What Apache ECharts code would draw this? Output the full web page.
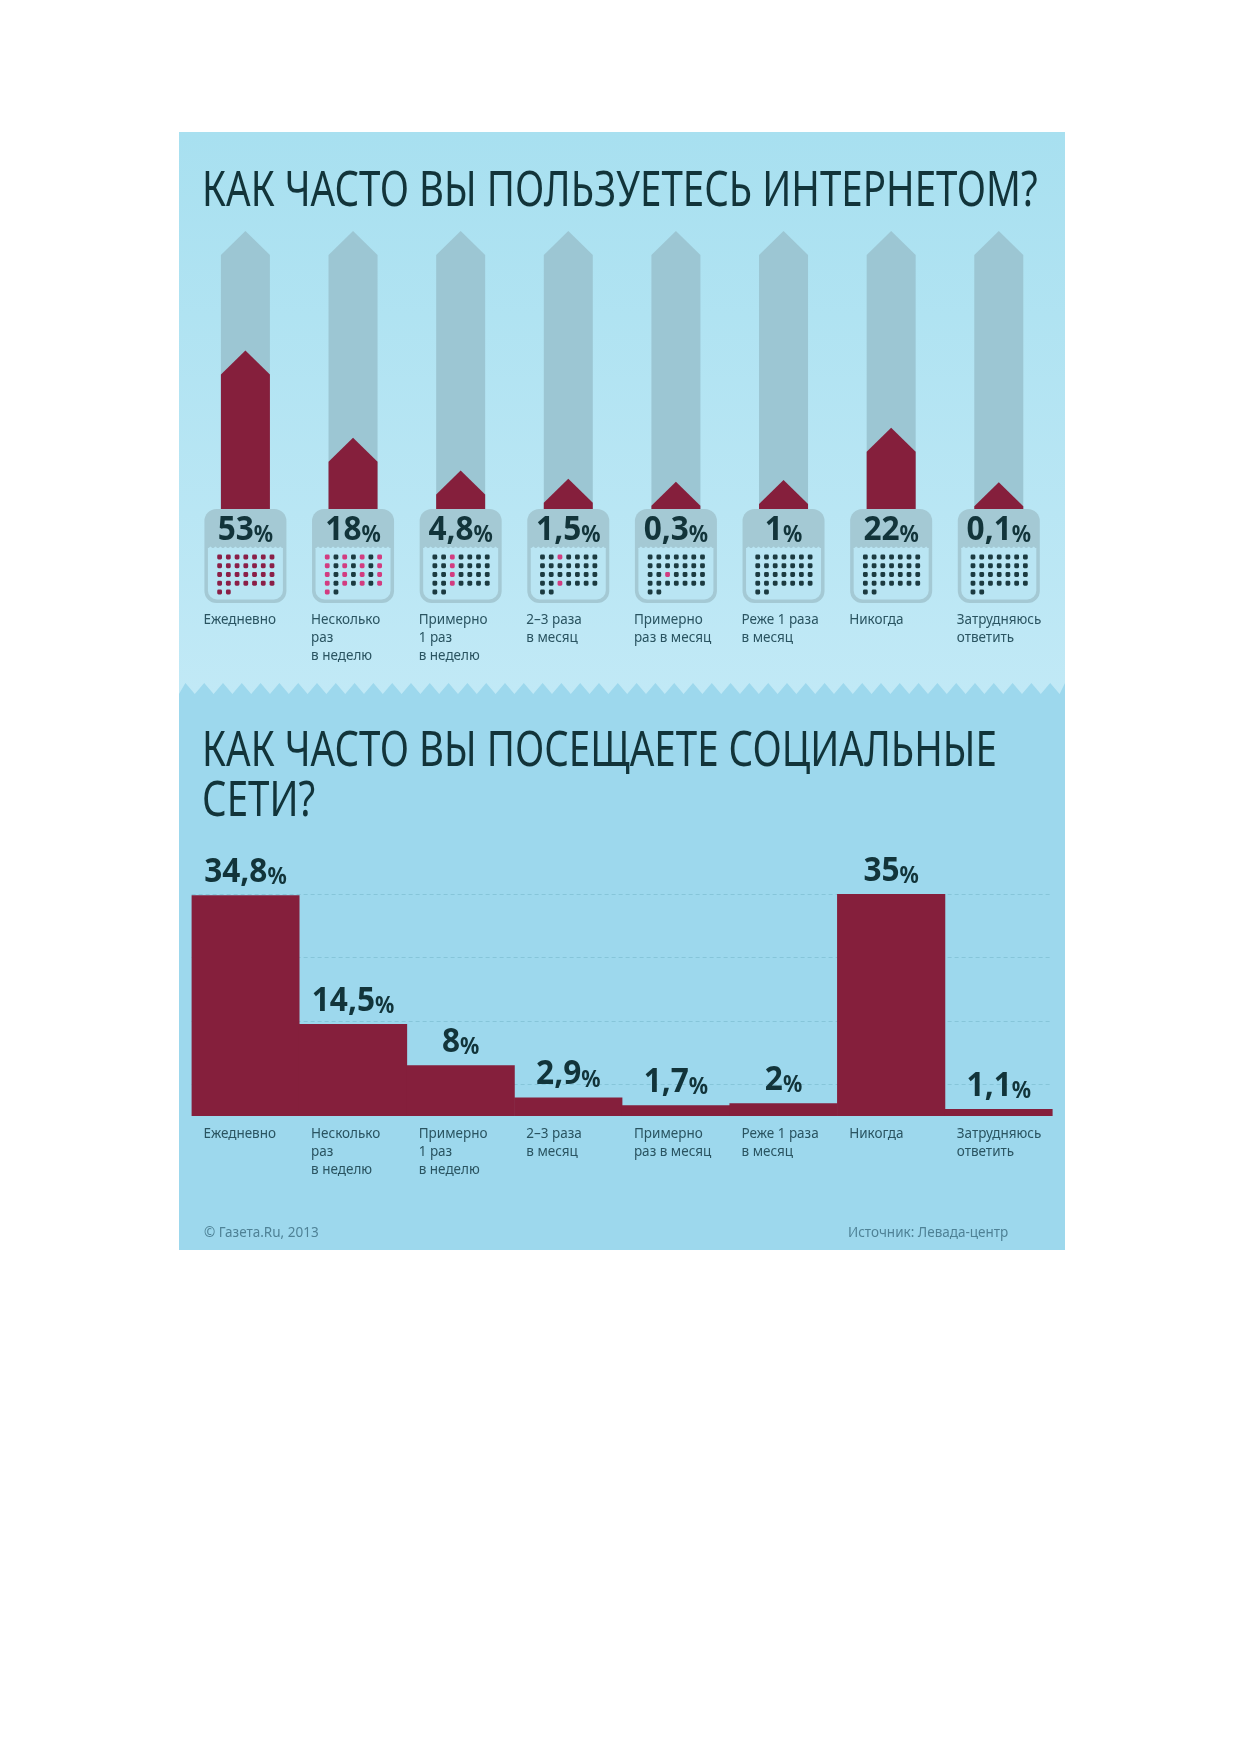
<!DOCTYPE html>
<html>
<head>
<meta charset="utf-8">
<style>html,body{margin:0;padding:0;background:#fff}#c{width:1240px;height:1754px}</style>
<script src="https://cdn.jsdelivr.net/npm/echarts@6/dist/echarts.min.js"></script>
</head>
<body>
<div id="c"></div>
<script>
var categories = ['Ежедневно','Несколько\nраз\nв неделю','Примерно\n1 раз\nв неделю','2–3 раза\nв месяц','Примерно\nраз в месяц','Реже 1 раза\nв месяц','Никогда','Затрудняюсь\nответить'];
var internetValues = [53,18,4.8,1.5,0.3,1,22,0.1];
var socialValues = [34.8,14.5,8,2.9,1.7,2,35,1.1];
var trackMax = 101;
var gridValues = [5,15,25,35];
var dotPatterns = [
  ['ccccccc','ccccccc','ccccccc','ccccccc','cc'],
  ['pdpdpdp','pdpdpdp','pdpdpdp','pdpdpdp','pd'],
  ['ddpdddd','ddpdddd','ddpdddd','ddpdddd','dd'],
  ['ddpdddd','ddddddd','ddddddd','ddpdddd','dd'],
  ['ddddddd','ddddddd','ddpdddd','ddddddd','dd'],
  ['ddddddd','ddddddd','ddddddd','ddddddd','dd'],
  ['ddddddd','ddddddd','ddddddd','ddddddd','dd'],
  ['ddddddd','ddddddd','ddddddd','ddddddd','dd']
];
var titleTop = 'КАК ЧАСТО ВЫ ПОЛЬЗУЕТЕСЬ ИНТЕРНЕТОМ?';
var titleBottom = 'КАК ЧАСТО ВЫ ПОСЕЩАЕТЕ СОЦИАЛЬНЫЕ\nСЕТИ?';
var footerLeft = '© Газета.Ru, 2013';
var footerRight = 'Источник: Левада-центр';

var narrow = '"Noto Sans","Open Sans",sans-serif';
var bodyFont = '"Noto Sans","Open Sans",sans-serif';
var INK = '#12343a', WINE = '#851f3c', TRACK = '#9cc6d3', BOX = '#a4c9d4', INNER = '#b9e5f3';
var DOT = {c:'#8a1f47', p:'#d23c80', d:'#1b3a40'};

function fmt(v){return String(v).replace('.',',');}
function richLabel(v){return '{n|'+fmt(v)+'}{p|%}';}
var rich = {
  n:{fontFamily:narrow,fontWeight:'bold',fontSize:34,fill:INK,verticalAlign:'bottom',lineHeight:36},
  p:{fontFamily:narrow,fontWeight:'bold',fontSize:23,fill:INK,verticalAlign:'bottom',lineHeight:28}
};
function labelEl(x, y, v){
  return {type:'text', x:x, y:y, scaleX:0.93, z2:10,
    style:{text:richLabel(v), rich:rich, align:'center', verticalAlign:'bottom', fontFamily:narrow, fontSize:34, fontWeight:'bold', fill:INK}};
}

function arrow(color, getValue){
  return function(params, api){
    var i = api.value(0), v = getValue(api);
    var c = api.coord([i, v]), base = api.coord([i, -1]);
    var hw = 24.5, tip = 24;
    return {type:'polygon', shape:{points:[
      [c[0]-hw, base[1]], [c[0]-hw, c[1]], [c[0], c[1]-tip], [c[0]+hw, c[1]], [c[0]+hw, base[1]]
    ]}, style:{fill:color}};
  };
}
function widget(params, api){
  var i = api.value(0), base = api.coord([i, -1]);
  var cx = base[0], top = base[1];
  var W = 82, H = 94, left = cx-W/2, inL = left+3.5, inW = W-7, inTop = top+39, inBot = top+H-3.5;
  var children = [
    {type:'rect', shape:{x:left,y:top,width:W,height:H,r:12}, style:{fill:BOX}},
    {type:'rect', shape:{x:inL,y:inTop,width:inW,height:inBot-inTop,r:[0,0,9,9]}, style:{fill:INNER}}
  ];
  var pts = [[inL,inTop+1]];
  for (var x=inL, k=0; x<inL+inW; x+=2.5, k++){ pts.push([x, inTop-(k%2?1.6:-0.5)]); }
  pts.push([inL+inW,inTop+1]);
  children.push({type:'polygon', shape:{points:pts}, style:{fill:INNER}});
  dotPatterns[i].forEach(function(row, r){
    row.split('').forEach(function(ch, col){
      children.push({type:'rect', shape:{x:cx-25.8+col*8.73-2.4, y:top+48+r*8.75-2.4, width:4.8, height:4.8, r:1.4}, style:{fill:DOT[ch]}});
    });
  });
  children.push(labelEl(cx, top+38, internetValues[i]));
  return {type:'group', children:children};
}
function barLabel(params, api){
  var c = api.coord([api.value(0), api.value(1)]);
  return labelEl(c[0], c[1]-6, api.value(1));
}

var axisLabelBase = {interval:0, hideOverlap:false, align:'left', fontFamily:bodyFont, fontSize:13.5, color:'#2a5461', lineHeight:18, verticalAlign:'top', padding:[0,0,0,-42]};
var idx = categories.map(function(_,i){return i;});

var teeth = [];
var PL=179, PR=1065, ZT=683, ZB=694, PERIOD=18.8;
teeth.push([PL,ZB]);
for (var x=PL-3, n=0; x<PR+PERIOD; x+=PERIOD/2, n++){
  teeth.push([Math.max(PL,Math.min(PR,x)), n%2===0 ? ZB : ZT]);
}
teeth.push([PR,ZB]);

var titleStyle = {fontFamily:narrow, fontWeight:'normal', fontSize:50, lineHeight:50, fill:INK};
var footStyle = {fontFamily:bodyFont, fontSize:13.5, fill:'#4f8296'};

var option = {
  animation:false,
  backgroundColor:'#ffffff',
  graphic:[
    {type:'rect', z:-10, shape:{x:PL,y:132,width:PR-PL,height:564}, style:{fill:new echarts.graphic.LinearGradient(0,0,0,1,[{offset:0,color:'#a8e0f0'},{offset:1,color:'#c1e9f6'}])}},
    {type:'rect', z:-9, shape:{x:PL,y:694,width:PR-PL,height:556}, style:{fill:'#9dd8ed'}},
    {type:'polygon', z:-9, shape:{points:teeth}, style:{fill:'#9dd8ed'}},
    {type:'text', z:1, x:202, y:167, scaleX:0.77, style:Object.assign({text:titleTop},titleStyle)},
    {type:'text', z:1, x:202, y:727, scaleX:0.77, style:Object.assign({text:titleBottom},titleStyle)},
    {type:'text', z:1, x:204, y:1226, style:Object.assign({text:footerLeft},footStyle)},
    {type:'text', z:1, x:848, y:1226, style:Object.assign({text:footerRight},footStyle)}
  ],
  grid:[
    {left:191.6, width:861, top:255, height:254},
    {left:191.6, width:861, top:894, height:222}
  ],
  xAxis:[
    {type:'category', gridIndex:0, data:categories, axisLine:{show:false}, axisTick:{show:false}, axisLabel:Object.assign({margin:102},axisLabelBase)},
    {type:'category', gridIndex:1, data:categories, axisLine:{show:false}, axisTick:{show:false}, axisLabel:Object.assign({margin:9},axisLabelBase)}
  ],
  yAxis:[
    {type:'value', gridIndex:0, min:-1, max:trackMax, show:false, splitLine:{show:false}},
    {type:'value', gridIndex:1, min:0, max:35, show:false, splitLine:{show:false}}
  ],
  series:[
    {type:'custom', name:'track', xAxisIndex:0, yAxisIndex:0, clip:false, silent:true,
     data:idx.map(function(i){return [i, trackMax];}), renderItem:arrow(TRACK,function(api){return api.value(1);})},
    {type:'custom', name:'Как часто вы пользуетесь интернетом', xAxisIndex:0, yAxisIndex:0, clip:false, z:3,
     data:internetValues.map(function(v,i){return [i,v];}), renderItem:arrow(WINE,function(api){return api.value(1);})},
    {type:'custom', name:'widgets', xAxisIndex:0, yAxisIndex:0, clip:false, silent:true, z:3,
     data:idx.map(function(i){return [i,-1];}), renderItem:widget},
    {type:'bar', name:'Как часто вы посещаете социальные сети', xAxisIndex:1, yAxisIndex:1, data:socialValues, barWidth:108.2, z:3,
     itemStyle:{color:WINE},
     markLine:{silent:true, z:1, symbol:'none', animation:false, label:{show:false},
       lineStyle:{color:'#86c5d9',type:[4,3],width:1},
       data:gridValues.map(function(v){return {yAxis:v};})}},
    {type:'custom', name:'social labels', xAxisIndex:1, yAxisIndex:1, clip:false, silent:true, z:6,
     data:socialValues.map(function(v,i){return [i,v];}), renderItem:barLabel}
  ]
};
var chart = echarts.init(document.getElementById('c'), null, {renderer:'canvas'});
chart.setOption(option);
</script>
</body>
</html>
